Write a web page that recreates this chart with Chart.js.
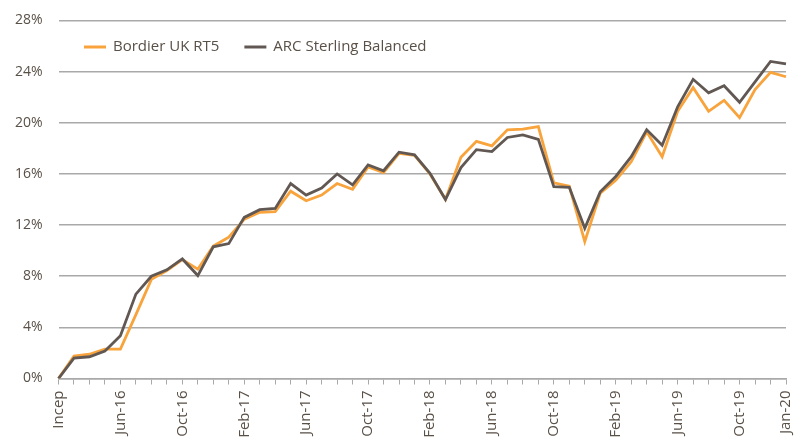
<!DOCTYPE html>
<html>
<head>
<meta charset="utf-8">
<script src="https://cdn.jsdelivr.net/npm/chart.js@4"></script>
<style>
  html, body { margin: 0; padding: 0; background: #fff; }
  #wrap { width: 798px; height: 441px; position: relative; }
</style>
</head>
<body>
<div id="wrap"><canvas id="perfChart"></canvas></div>
<script>
const months = [
  'Incep', 'Mar-16', 'Apr-16', 'May-16', 'Jun-16', 'Jul-16', 'Aug-16', 'Sep-16',
  'Oct-16', 'Nov-16', 'Dec-16', 'Jan-17', 'Feb-17', 'Mar-17', 'Apr-17', 'May-17',
  'Jun-17', 'Jul-17', 'Aug-17', 'Sep-17', 'Oct-17', 'Nov-17', 'Dec-17', 'Jan-18',
  'Feb-18', 'Mar-18', 'Apr-18', 'May-18', 'Jun-18', 'Jul-18', 'Aug-18', 'Sep-18',
  'Oct-18', 'Nov-18', 'Dec-18', 'Jan-19', 'Feb-19', 'Mar-19', 'Apr-19', 'May-19',
  'Jun-19', 'Jul-19', 'Aug-19', 'Sep-19', 'Oct-19', 'Nov-19', 'Dec-19', 'Jan-20'
];

// cumulative return, %
const bordier = [
  0, 1.75, 1.9, 2.3, 2.3, 5.0, 7.75, 8.45,
  9.3, 8.55, 10.35, 11.05, 12.45, 13.0, 13.05, 14.65,
  13.9, 14.35, 15.25, 14.8, 16.55, 16.1, 17.6, 17.45,
  16.0, 14.0, 17.3, 18.55, 18.2, 19.45, 19.5, 19.7,
  15.3, 15.05, 10.7, 14.5, 15.5, 16.95, 19.3, 17.35,
  20.9, 22.75, 20.9, 21.75, 20.4, 22.6, 23.95, 23.6
];
const arcBalanced = [
  0, 1.6, 1.7, 2.15, 3.35, 6.6, 8.0, 8.5,
  9.35, 8.05, 10.3, 10.55, 12.6, 13.2, 13.3, 15.25,
  14.35, 14.9, 16.0, 15.15, 16.7, 16.25, 17.7, 17.5,
  16.05, 14.0, 16.5, 17.9, 17.75, 18.85, 19.05, 18.7,
  15.0, 14.95, 11.75, 14.6, 15.8, 17.35, 19.45, 18.25,
  21.25, 23.4, 22.35, 22.9, 21.6, 23.2, 24.8, 24.6
];
const yTicks = [0, 4, 8, 12, 16, 20, 24, 28];

const textCol = '#595047';
const gridCol = '#a9a9a9';
const fontFam = "'Open Sans', 'Noto Sans', sans-serif";

// legend sits inside the plot, one row, in dataset order
const inlineLegend = {
  id: 'inlineLegend',
  afterDraw(chart) {
    const { ctx, chartArea } = chart;
    let x = chartArea.left + 25.5;
    const y = chartArea.top + 26.5;
    ctx.save();
    ctx.font = '15px ' + fontFam;
    ctx.textBaseline = 'middle';
    chart.data.datasets.forEach(ds => {
      ctx.strokeStyle = ds.borderColor;
      ctx.lineWidth = 3;
      ctx.beginPath();
      ctx.moveTo(x, y);
      ctx.lineTo(x + 22, y);
      ctx.stroke();
      ctx.fillStyle = textCol;
      ctx.fillText(ds.label, x + 29, y);
      x += 29 + ctx.measureText(ds.label).width + 25;
    });
    ctx.restore();
  }
};

new Chart(document.getElementById('perfChart'), {
  type: 'line',
  data: {
    labels: months,
    datasets: [
      { label: 'Bordier UK RT5', data: bordier, borderColor: '#f8a33b', backgroundColor: '#f8a33b', order: 1 },
      { label: 'ARC Sterling Balanced', data: arcBalanced, borderColor: '#625853', backgroundColor: '#625853', order: 0 }
    ]
  },
  options: {
    responsive: true,
    maintainAspectRatio: false,
    animation: false,
    layout: { padding: { top: 20.5, right: 12, left: 0, bottom: 0 } },
    elements: {
      line: { borderWidth: 2.8, tension: 0 },
      point: { radius: 0 }
    },
    plugins: {
      tooltip: { enabled: false },
      legend: { display: false }
    },
    scales: {
      x: {
        afterFit: s => { s.height = 62.5; s.paddingLeft = 0; s.paddingRight = 0; },
        grid: { drawOnChartArea: false, drawTicks: true, tickLength: 6, color: gridCol },
        border: { display: true, color: gridCol, width: 1.5 },
        ticks: {
          autoSkip: false,
          maxRotation: 90,
          minRotation: 90,
          padding: 6,
          color: textCol,
          font: { family: fontFam, size: 15 },
          callback: (v, i) => (i % 4 === 0 || i === months.length - 1) ? months[i] : ''
        }
      },
      y: {
        min: 0,
        max: 28,
        afterFit: s => { s.width = 58.5; s.paddingTop = 0; s.paddingBottom = 0; },
        afterBuildTicks: s => { s.ticks = yTicks.map(v => ({ value: v })); },
        grid: { color: gridCol, lineWidth: 1.5, drawTicks: false },
        border: { display: false },
        ticks: {
          padding: 16,
          color: textCol,
          font: { family: fontFam, size: 14 },
          callback: v => v + '%'
        }
      }
    }
  },
  plugins: [inlineLegend]
});
</script>
</body>
</html>
